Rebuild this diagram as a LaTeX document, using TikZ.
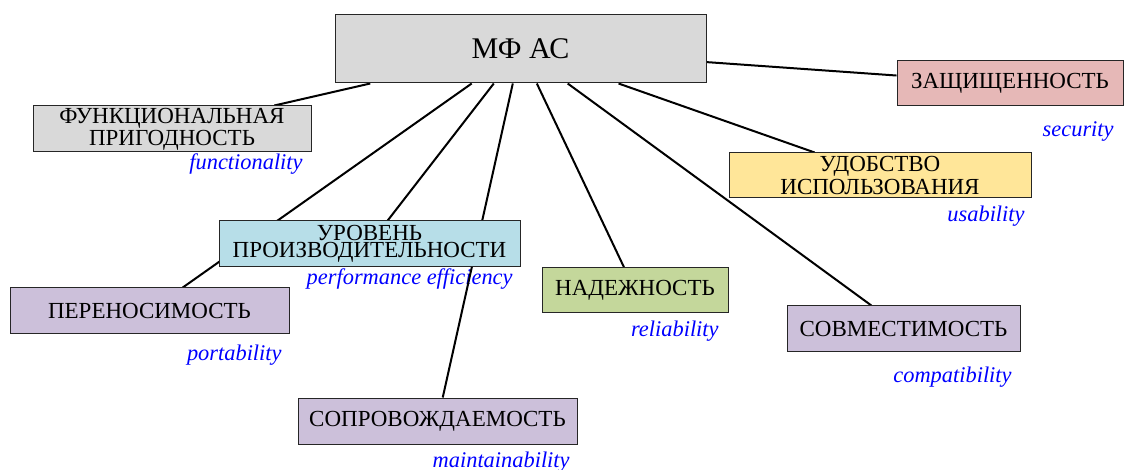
\documentclass[tikz,border=0pt]{standalone}
\usepackage{fontspec}
\setmainfont{Liberation Serif}
\usetikzlibrary{backgrounds}

\definecolor{grisbox}{HTML}{D9D9D9}
\definecolor{rosabox}{HTML}{E6B8B7}
\definecolor{amarbox}{HTML}{FFE699}
\definecolor{azulbox}{HTML}{B7DEE8}
\definecolor{verdebox}{HTML}{C4D79B}
\definecolor{lilabox}{HTML}{CCC0DA}

\begin{document}
\begin{tikzpicture}[x=0.5pt, y=-0.5pt,
    caja/.style={draw=black!85, line width=0.5pt, inner sep=0pt,
      minimum height=23pt, align=center,
      font=\fontsize{11.5}{8.7}\selectfont},
    etiq/.style={anchor=base east, text=blue, inner sep=0pt,
      font=\fontsize{11.2}{13}\selectfont\itshape},
    rama/.style={line width=1pt, black}]
  \useasboundingbox (0,0) rectangle (1125,470);
  % Caja central
  \node[caja, fill=grisbox, minimum width=185.5pt, minimum height=34pt,
    font=\fontsize{15}{18}\selectfont] (raiz) at (520.5,49) {МФ АС};
  % Caracteristicas
  \node[caja, fill=grisbox, minimum width=139pt] (func) at (172,129)
    {ФУНКЦИОНАЛЬНАЯ\\ПРИГОДНОСТЬ};
  \node[caja, fill=rosabox, minimum width=113pt, minimum height=22.5pt]
    (segur) at (1010,83.5) {ЗАЩИЩЕННОСТЬ};
  \node[caja, fill=amarbox, minimum width=151pt, minimum height=22.5pt]
    (usab) at (880,175.5) {УДОБСТВО\\ИСПОЛЬЗОВАНИЯ};
  \node[caja, fill=azulbox, minimum width=150.5pt] (rend) at (369.5,244)
    {УРОВЕНЬ\\ПРОИЗВОДИТЕЛЬНОСТИ};
  \node[caja, fill=verdebox, minimum width=93pt, minimum height=22.5pt]
    (fiab) at (635,290.5) {НАДЕЖНОСТЬ};
  \node[caja, fill=lilabox, minimum width=139.5pt] (port) at (149.5,311)
    {ПЕРЕНОСИМОСТЬ};
  \node[caja, fill=lilabox, minimum width=116.5pt] (compat) at (903.5,329)
    {СОВМЕСТИМОСТЬ};
  \node[caja, fill=lilabox, minimum width=139.5pt] (mant) at (437.5,421)
    {СОПРОВОЖДАЕМОСТЬ};
  % Nombres en ingles y ramas, por debajo de las cajas
  \begin{pgfonlayer}{background}
    \node[etiq] (lfunc) at (303,170) {functionality};
    \node[etiq] (lsegur) at (1114,137) {security};
    \node[etiq] (lusab) at (1025,222) {usability};
    \node[etiq] (lrend) at (513,285) {performance efficiency};
    \node[etiq] (lfiab) at (719,336) {reliability};
    \node[etiq] (lport) at (282,360) {portability};
    \node[etiq] (lcompat) at (1012,383) {compatibility};
    \node[etiq] (lmant) at (570,467) {maintainability};
    \foreach \hoja in {func,segur,usab,rend,fiab,port,compat,mant}
      \draw[rama] (raiz) -- (\hoja);
  \end{pgfonlayer}
\end{tikzpicture}
\end{document}
